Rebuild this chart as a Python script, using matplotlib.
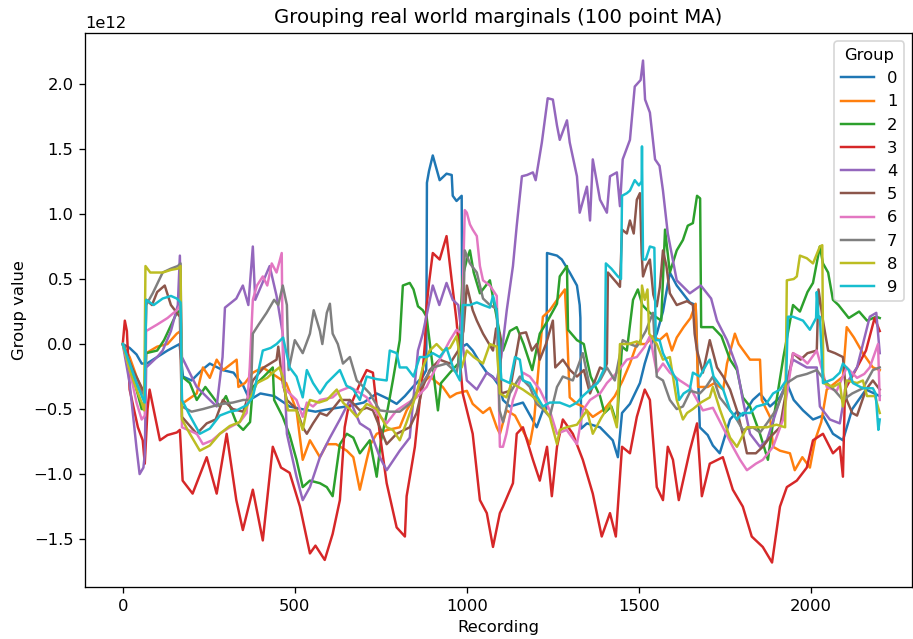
import matplotlib
matplotlib.use("Agg")
import matplotlib.pyplot as plt
import numpy as np

# Moving-average group values per recording, in units of 1e12 (recording, value)
g0 = [(0,0),(20,-0.03),(40,-0.08),(55,-0.15),(70,-0.15),(100,-0.1),(130,-0.05),(165,0.0),(175,-0.25),(200,-0.28),(230,-0.2),(253,-0.15),(290,-0.2),(322,-0.22),(350,-0.32),(369,-0.43),(400,-0.38),(440,-0.4),(485,-0.48),(520,-0.5),(560,-0.52),(600,-0.5),(650,-0.48),(700,-0.45),(738,-0.38),(770,-0.42),(796,-0.46),(820,-0.4),(843,-0.33),(872,-0.25),(882,-0.2),(884,1.24),(890,1.33),(901,1.45),(921,1.26),(941,1.31),(956,1.3),(959,1.14),(970,1.1),(985,1.14),(987,-0.02),(1000,0.0),(1017,-0.05),(1040,-0.15),(1058,-0.22),(1075,-0.25),(1096,-0.33),(1105,-0.43),(1125,-0.48),(1163,-0.45),(1203,-0.64),(1221,-0.51),(1231,-0.5),(1233,0.7),(1262,0.68),(1276,0.65),(1299,0.55),(1320,0.45),(1328,0.3),(1330,0.2),(1332,-0.65),(1349,-0.61),(1387,-0.64),(1424,-0.74),(1439,-0.87),(1451,-0.53),(1474,-0.46),(1503,-0.3),(1517,-0.15),(1532,-0.02),(1552,0.08),(1570,0.25),(1590,0.55),(1610,0.45),(1648,0.32),(1665,0.3),(1677,-0.64),(1700,-0.7),(1715,-0.78),(1735,-0.84),(1765,-0.58),(1785,-0.52),(1802,-0.55),(1831,-0.43),(1852,-0.38),(1881,-0.48),(1910,-0.41),(1930,-0.3),(1950,-0.43),(1977,-0.51),(2006,-0.58),(2035,-0.55),(2064,-0.69),(2093,-0.74),(2120,-0.5),(2160,-0.35),(2200,-0.4)]
g1 = [(0,0),(20,-0.1),(40,-0.25),(55,-0.35),(64,-0.38),(68,-0.07),(100,-0.02),(130,0.0),(157,0.08),(168,0.1),(172,-0.46),(215,-0.38),(233,-0.18),(253,-0.26),(273,-0.12),(292,-0.2),(331,-0.12),(336,-0.33),(355,-0.3),(378,-0.22),(407,-0.18),(447,-0.25),(475,-0.3),(505,-0.51),(523,-0.89),(544,-0.74),(573,-0.87),(593,-0.77),(620,-0.77),(651,-0.82),(670,-0.87),(689,-1.12),(709,-0.89),(720,-0.77),(738,-0.69),(770,-0.66),(805,-0.64),(825,-0.51),(843,-0.43),(872,-0.3),(892,-0.25),(930,-0.33),(951,-0.41),(970,-0.38),(1000,-0.36),(1017,-0.46),(1047,-0.53),(1067,-0.49),(1087,-0.64),(1096,-0.69),(1115,-0.51),(1140,-0.55),(1183,-0.77),(1195,-0.6),(1221,0.21),(1241,0.26),(1265,0.35),(1285,0.42),(1292,0.05),(1299,-0.41),(1320,-0.46),(1337,-0.48),(1366,-0.56),(1400,-0.5),(1430,-0.4),(1453,-0.28),(1474,-0.15),(1494,0.0),(1520,0.0),(1541,0.06),(1560,0.03),(1581,0.08),(1596,-0.05),(1610,0.05),(1630,0.13),(1650,0.2),(1665,0.31),(1672,-0.33),(1700,-0.33),(1720,-0.3),(1745,-0.35),(1756,-0.15),(1779,0.08),(1790,0.0),(1823,-0.12),(1852,-0.12),(1857,-0.43),(1881,-0.56),(1890,-0.79),(1910,-0.82),(1939,-0.84),(1953,-0.97),(1975,-0.87),(1997,-0.95),(2012,-0.74),(2030,-0.6),(2046,-0.35),(2070,-0.3),(2093,-0.25),(2104,0.13),(2125,0.05),(2151,-0.07),(2180,-0.18),(2200,-0.2)]
g2 = [(0,0),(20,-0.15),(40,-0.35),(55,-0.5),(64,-0.5),(68,-0.07),(100,-0.05),(120,0.03),(157,0.24),(168,0.26),(172,-0.25),(195,-0.3),(215,-0.43),(240,-0.33),(260,-0.4),(282,-0.48),(300,-0.4),(331,-0.61),(350,-0.66),(370,-0.6),(378,-0.33),(410,-0.25),(436,-0.18),(440,-0.43),(465,-0.56),(485,-0.7),(505,-0.89),(523,-1.1),(544,-1.05),(573,-1.07),(593,-1.1),(610,-1.17),(631,-0.77),(651,-0.69),(670,-0.72),(689,-0.84),(718,-0.74),(738,-1.02),(750,-0.75),(770,-0.5),(785,-0.28),(805,0.03),(814,0.45),(834,0.47),(845,0.42),(858,0.29),(872,0.26),(883,0.21),(901,-0.18),(916,-0.51),(925,-0.3),(951,-0.22),(975,-0.15),(988,0.52),(1000,0.65),(1009,0.72),(1020,0.55),(1038,0.39),(1067,0.49),(1080,0.3),(1105,-0.05),(1125,0.1),(1145,0.13),(1165,0.0),(1190,-0.2),(1212,0.08),(1235,0.18),(1262,0.31),(1270,0.52),(1291,0.6),(1294,0.11),(1320,0.03),(1340,0.0),(1349,-0.12),(1360,-0.25),(1387,-0.4),(1400,-0.53),(1420,-0.48),(1436,-0.61),(1451,-0.02),(1465,-0.05),(1483,0.34),(1497,0.42),(1510,0.3),(1532,0.24),(1565,0.18),(1576,0.88),(1590,0.55),(1610,0.72),(1628,0.8),(1642,0.91),(1657,0.93),(1669,1.14),(1678,1.12),(1681,0.13),(1715,0.13),(1740,0.06),(1765,-0.12),(1785,-0.2),(1802,-0.41),(1823,-0.48),(1852,-0.69),(1875,-0.89),(1890,-0.6),(1920,-0.1),(1948,0.3),(1968,0.25),(1990,0.4),(2006,0.47),(2026,0.75),(2035,0.62),(2050,0.55),(2064,0.34),(2080,0.3),(2110,0.2),(2140,0.25),(2163,0.18),(2190,0.21),(2200,0.2)]
g3 = [(0,0),(6,0.18),(12,0.1),(20,-0.35),(44,-0.64),(58,-0.74),(64,-0.92),(72,-0.5),(78,-0.35),(108,-0.74),(130,-0.7),(157,-0.68),(166,-0.66),(174,-1.05),(203,-1.15),(244,-0.87),(273,-1.15),(302,-0.69),(330,-1.2),(349,-1.43),(378,-1.12),(407,-1.51),(436,-0.79),(460,-0.95),(485,-0.99),(515,-1.25),(544,-1.61),(560,-1.55),(587,-1.66),(610,-1.46),(631,-1.2),(645,-0.64),(654,-0.51),(669,-0.43),(690,-0.3),(709,-0.2),(727,-0.22),(747,-0.69),(767,-1.07),(796,-1.41),(820,-1.48),(825,-1.17),(849,-0.79),(858,-0.56),(869,-0.3),(878,0.0),(883,0.29),(890,0.47),(901,0.7),(921,0.65),(941,0.83),(956,0.49),(970,0.18),(988,-0.38),(1017,-0.69),(1038,-1.2),(1058,-1.3),(1076,-1.56),(1096,-1.3),(1105,-1.25),(1134,-1.07),(1145,-0.69),(1163,-0.64),(1192,-0.89),(1212,-1.05),(1233,-0.79),(1247,-1.17),(1262,-0.79),(1279,-0.58),(1308,-0.69),(1337,-0.89),(1366,-1.15),(1392,-1.48),(1416,-1.3),(1433,-1.48),(1451,-0.79),(1474,-0.84),(1494,-0.56),(1517,-0.35),(1532,-0.43),(1552,-1.1),(1570,-1.2),(1584,-0.79),(1599,-0.89),(1616,-1.2),(1648,-0.82),(1669,-0.61),(1683,-1.17),(1706,-0.92),(1744,-0.87),(1773,-1.12),(1802,-1.25),(1828,-1.48),(1860,-1.56),(1887,-1.68),(1910,-1.25),(1930,-1.1),(1959,-1.05),(1988,-0.95),(2006,-0.74),(2035,-0.69),(2064,-0.84),(2084,-0.79),(2093,-1.02),(2099,-0.35),(2130,-0.2),(2160,-0.05),(2185,0.2),(2200,0.1)]
g4 = [(0,0),(20,-0.3),(40,-0.8),(49,-1.0),(60,-0.95),(64,-0.85),(68,-0.18),(100,-0.1),(116,-0.05),(140,0.1),(160,0.3),(166,0.68),(172,-0.1),(215,-0.33),(253,-0.43),(273,-0.48),(290,-0.1),(297,0.28),(330,0.35),(349,0.45),(365,0.3),(378,0.75),(385,0.34),(427,0.6),(447,0.37),(465,0.08),(477,-0.69),(505,-1.02),(523,-1.2),(544,-1.1),(573,-0.87),(602,-0.72),(631,-0.58),(660,-0.43),(689,-0.61),(718,-0.66),(747,-0.87),(767,-0.97),(805,-0.82),(834,-0.72),(858,-0.05),(872,0.08),(901,0.45),(920,0.3),(941,0.47),(959,0.34),(975,0.3),(1000,-0.28),(1029,-0.35),(1058,-0.22),(1087,-0.28),(1100,-0.1),(1116,0.26),(1134,0.6),(1145,0.91),(1160,1.29),(1175,1.3),(1192,1.32),(1200,1.26),(1218,1.55),(1235,1.89),(1250,1.88),(1262,1.68),(1270,1.57),(1291,1.72),(1299,1.55),(1320,1.29),(1328,1.01),(1349,1.21),(1358,0.95),(1366,1.42),(1387,1.11),(1407,1.01),(1416,1.29),(1436,1.32),(1445,1.06),(1453,1.42),(1474,1.57),(1488,1.98),(1505,2.03),(1512,2.18),(1518,1.88),(1532,1.78),(1547,1.42),(1560,1.37),(1570,1.18),(1584,0.85),(1610,0.49),(1648,0.39),(1680,0.45),(1710,0.35),(1727,0.18),(1756,0.03),(1785,-0.18),(1802,-0.43),(1823,-0.69),(1852,-0.79),(1872,-0.74),(1910,-0.43),(1930,-0.28),(1948,-0.12),(1988,-0.18),(2017,-0.18),(2026,-0.48),(2055,-0.58),(2084,-0.61),(2104,-0.3),(2134,-0.18),(2171,0.21),(2190,0.24),(2200,-0.07)]
g5 = [(0,0),(10,-0.07),(30,-0.2),(58,-0.35),(64,-0.43),(68,0.34),(85,0.3),(100,0.4),(122,0.45),(140,0.3),(166,0.21),(172,-0.56),(215,-0.69),(244,-0.61),(270,-0.58),(291,-0.43),(320,-0.5),(350,-0.52),(365,-0.4),(378,-0.28),(410,-0.18),(447,-0.12),(452,-0.02),(465,-0.3),(477,-0.43),(505,-0.5),(523,-0.64),(535,-0.69),(553,-0.61),(573,-0.53),(593,-0.55),(610,-0.5),(631,-0.43),(660,-0.43),(689,-0.51),(709,-0.49),(727,-0.51),(747,-0.64),(767,-0.77),(796,-0.69),(834,-0.64),(854,-0.53),(872,-0.33),(892,-0.2),(921,-0.12),(951,-0.15),(975,-0.05),(990,0.1),(1000,0.45),(1017,0.26),(1029,0.18),(1047,0.08),(1076,-0.05),(1085,0.12),(1096,0.08),(1100,-0.38),(1125,-0.36),(1154,0.08),(1172,0.09),(1189,-0.05),(1203,0.0),(1212,-0.12),(1230,0.0),(1250,0.18),(1257,-0.18),(1279,-0.12),(1300,-0.2),(1320,-0.25),(1340,-0.2),(1358,-0.38),(1387,-0.18),(1400,-0.2),(1407,-0.15),(1410,0.55),(1436,0.47),(1445,0.44),(1451,0.88),(1465,0.85),(1474,0.95),(1485,0.85),(1494,1.11),(1503,1.16),(1508,0.7),(1512,0.52),(1522,0.6),(1532,0.65),(1542,0.38),(1552,0.29),(1561,0.44),(1570,0.72),(1580,0.6),(1590,0.39),(1610,0.3),(1640,0.33),(1657,0.3),(1662,0.08),(1669,-0.05),(1686,-0.22),(1706,0.03),(1727,-0.18),(1745,-0.25),(1765,-0.35),(1785,-0.51),(1802,-0.69),(1814,-0.84),(1840,-0.84),(1860,-0.79),(1880,-0.72),(1910,-0.64),(1930,-0.33),(1948,-0.07),(1970,-0.12),(1990,-0.07),(2017,-0.05),(2022,0.42),(2035,0.18),(2050,-0.05),(2070,-0.07),(2093,-0.1),(2104,-0.43),(2120,-0.53),(2134,-0.55),(2160,-0.35),(2180,-0.28),(2200,-0.35)]
g6 = [(0,0),(20,-0.2),(40,-0.45),(55,-0.58),(64,-0.55),(68,0.1),(100,0.15),(130,0.2),(157,0.26),(168,0.3),(172,-0.64),(215,-0.69),(233,-0.77),(260,-0.74),(282,-0.69),(311,-0.64),(340,-0.6),(360,-0.53),(369,-0.18),(378,0.34),(390,0.45),(407,0.52),(420,0.45),(433,0.62),(447,0.55),(462,0.7),(466,-0.33),(485,-0.38),(505,-0.43),(523,-0.56),(535,-0.45),(553,-0.48),(573,-0.43),(610,-0.41),(631,-0.36),(660,-0.33),(680,-0.36),(709,-0.41),(738,-0.53),(767,-0.61),(796,-0.51),(825,-0.46),(854,-0.41),(883,-0.33),(921,-0.12),(951,0.03),(970,0.11),(985,0.08),(994,1.03),(1000,1.01),(1009,0.92),(1017,0.88),(1029,0.83),(1038,0.6),(1047,0.49),(1067,0.45),(1087,0.37),(1096,-0.79),(1105,-0.79),(1115,-0.69),(1134,-0.43),(1163,-0.22),(1183,-0.25),(1212,-0.35),(1241,-0.51),(1262,-0.69),(1290,-0.66),(1320,-0.77),(1337,-0.51),(1358,-0.43),(1387,-0.38),(1407,-0.3),(1436,-0.22),(1465,-0.12),(1494,-0.1),(1517,-0.02),(1532,0.06),(1552,-0.22),(1570,-0.15),(1590,-0.22),(1619,-0.28),(1648,-0.33),(1669,-0.43),(1686,-0.51),(1715,-0.49),(1744,-0.64),(1773,-0.79),(1794,-0.89),(1814,-0.97),(1840,-0.92),(1860,-0.89),(1890,-0.79),(1919,-0.58),(1948,-0.07),(1970,-0.1),(1990,-0.15),(2017,-0.05),(2046,-0.33),(2075,-0.36),(2104,-0.18),(2134,-0.26),(2155,-0.23),(2171,-0.18),(2195,0.0),(2200,-0.43)]
g7 = [(0,0),(20,-0.15),(40,-0.3),(55,-0.38),(64,-0.35),(68,0.3),(87,0.39),(116,0.55),(140,0.58),(160,0.6),(168,0.62),(172,-0.48),(200,-0.52),(233,-0.5),(260,-0.48),(290,-0.46),(320,-0.45),(350,-0.43),(372,-0.43),(378,0.08),(395,0.15),(418,0.24),(440,0.34),(452,0.3),(465,0.45),(477,0.3),(482,-0.2),(500,0.03),(523,-0.07),(544,0.08),(555,0.26),(573,0.1),(580,0.0),(593,0.24),(602,0.31),(610,0.08),(625,0.0),(640,-0.15),(660,-0.1),(680,-0.28),(700,-0.33),(718,-0.38),(747,-0.51),(776,-0.52),(805,-0.52),(834,-0.46),(863,-0.33),(901,-0.18),(941,-0.15),(970,-0.22),(988,0.03),(994,0.72),(1009,0.62),(1029,0.55),(1047,0.35),(1067,0.3),(1087,0.27),(1095,-0.51),(1105,-0.6),(1125,-0.38),(1154,-0.25),(1183,-0.33),(1203,-0.46),(1221,-0.5),(1241,-0.56),(1262,-0.33),(1279,-0.25),(1308,-0.28),(1337,-0.07),(1358,-0.34),(1387,-0.28),(1407,-0.18),(1430,-0.28),(1453,0.03),(1474,0.0),(1494,-0.02),(1520,0.1),(1541,0.24),(1552,-0.25),(1570,-0.28),(1590,-0.43),(1610,-0.5),(1628,-0.48),(1650,-0.36),(1677,-0.38),(1695,-0.33),(1715,-0.25),(1735,-0.41),(1756,-0.48),(1780,-0.56),(1802,-0.66),(1831,-0.64),(1852,-0.68),(1872,-0.61),(1900,-0.5),(1930,-0.3),(1959,-0.25),(1988,-0.23),(2017,-0.2),(2046,-0.3),(2070,-0.36),(2093,-0.43),(2120,-0.38),(2151,-0.34),(2180,-0.2),(2200,-0.18)]
g8 = [(0,0),(20,-0.2),(40,-0.35),(55,-0.45),(62,-0.51),(66,0.6),(80,0.55),(100,0.55),(116,0.55),(140,0.57),(160,0.58),(168,0.6),(172,-0.58),(195,-0.69),(224,-0.82),(253,-0.78),(282,-0.69),(311,-0.63),(340,-0.6),(369,-0.43),(390,-0.3),(420,-0.26),(436,-0.22),(455,-0.18),(465,-0.25),(480,-0.51),(505,-0.51),(523,-0.66),(535,-0.5),(544,-0.43),(570,-0.45),(593,-0.43),(622,-0.35),(640,-0.45),(660,-0.5),(680,-0.56),(709,-0.46),(738,-0.5),(767,-0.64),(785,-0.66),(805,-0.74),(825,-0.6),(854,-0.38),(872,-0.18),(892,-0.05),(912,0.0),(930,-0.05),(951,-0.03),(970,0.06),(985,-0.18),(1000,-0.05),(1020,-0.1),(1047,-0.15),(1067,0.0),(1087,-0.02),(1096,-0.38),(1115,-0.41),(1130,-0.3),(1163,-0.35),(1190,-0.4),(1221,-0.48),(1241,-0.56),(1262,-0.77),(1270,-0.66),(1290,-0.64),(1320,-0.62),(1349,-0.51),(1366,-0.69),(1390,-0.57),(1416,-0.46),(1436,-0.64),(1445,0.0),(1470,0.0),(1494,0.02),(1505,0.0),(1509,0.45),(1517,0.34),(1525,0.42),(1530,0.08),(1552,0.0),(1570,-0.12),(1590,-0.1),(1610,-0.43),(1628,-0.58),(1640,-0.53),(1657,-0.5),(1680,-0.45),(1706,-0.41),(1715,-0.33),(1735,-0.5),(1765,-0.72),(1785,-0.79),(1814,-0.64),(1843,-0.64),(1872,-0.64),(1900,-0.62),(1925,-0.64),(1930,0.49),(1950,0.5),(1959,0.52),(1968,0.68),(1988,0.66),(2006,0.62),(2026,0.75),(2033,0.76),(2036,-0.3),(2064,-0.33),(2084,-0.3),(2093,-0.48),(2104,-0.28),(2134,-0.3),(2151,-0.28),(2163,-0.4),(2186,-0.4),(2200,-0.53)]
g9 = [(0,0),(20,-0.15),(40,-0.3),(60,-0.43),(64,-0.45),(68,0.34),(90,0.3),(116,0.35),(140,0.37),(157,0.35),(168,0.32),(172,-0.43),(195,-0.55),(224,-0.69),(253,-0.65),(282,-0.55),(311,-0.52),(331,-0.51),(360,-0.47),(378,-0.41),(407,-0.05),(430,-0.03),(447,0.0),(466,0.05),(485,-0.18),(505,-0.25),(523,-0.41),(535,-0.2),(553,-0.3),(573,-0.38),(593,-0.3),(612,-0.25),(631,-0.2),(650,-0.32),(670,-0.35),(689,-0.43),(709,-0.25),(738,-0.27),(767,-0.28),(776,-0.05),(796,-0.07),(805,-0.18),(825,-0.18),(845,-0.25),(863,-0.1),(883,-0.1),(901,-0.07),(921,-0.1),(941,-0.03),(960,-0.18),(980,-0.28),(988,0.3),(1009,0.3),(1029,0.32),(1047,0.3),(1067,0.28),(1076,0.37),(1087,0.25),(1095,-0.05),(1100,-0.27),(1125,-0.3),(1140,-0.1),(1154,-0.12),(1163,-0.28),(1183,-0.3),(1203,-0.4),(1221,-0.48),(1241,-0.45),(1270,-0.45),(1299,-0.48),(1320,-0.45),(1337,-0.4),(1358,-0.35),(1380,-0.3),(1401,-0.18),(1404,0.62),(1420,0.58),(1439,0.52),(1448,0.5),(1451,1.14),(1465,1.16),(1474,1.18),(1488,1.26),(1500,1.22),(1508,1.25),(1509,1.52),(1512,0.65),(1520,0.65),(1532,0.75),(1545,0.74),(1549,0.03),(1560,0.03),(1570,-0.07),(1590,-0.18),(1610,-0.28),(1617,-0.43),(1630,-0.38),(1648,-0.35),(1657,-0.22),(1677,-0.25),(1698,-0.15),(1706,-0.12),(1717,-0.25),(1745,-0.35),(1765,-0.51),(1785,-0.58),(1802,-0.53),(1823,-0.53),(1842,-0.48),(1870,-0.46),(1890,-0.38),(1910,-0.35),(1928,-0.28),(1933,0.21),(1948,0.21),(1977,0.18),(1997,0.11),(2015,0.2),(2017,0.4),(2022,0.2),(2026,0.21),(2035,-0.3),(2064,-0.27),(2084,-0.22),(2093,-0.15),(2110,-0.2),(2122,-0.3),(2151,-0.34),(2180,-0.34),(2188,-0.38),(2196,-0.66),(2200,-0.58)]

groups = [g0, g1, g2, g3, g4, g5, g6, g7, g8, g9]
group_labels = [str(i) for i in range(10)]
SCALE = 1e12

DPI = 118
fig = plt.figure(figsize=(913 / DPI, 639 / DPI), dpi=DPI)
ax = fig.add_subplot(111)
fig.subplots_adjust(left=0.093, right=0.999, top=0.948, bottom=0.081)

for pts, label in zip(groups, group_labels):
    arr = np.array(pts, dtype=float)
    ax.plot(arr[:, 0], arr[:, 1] * SCALE, label=label, linewidth=1.5)

ax.set_xlim(-110, 2294)
ax.set_ylim(-1.87 * SCALE, 2.39 * SCALE)
ax.set_title("Grouping real world marginals (100 point MA)")
ax.set_xlabel("Recording")
ax.set_ylabel("Group value")
ax.legend(title="Group", loc="upper right")

fig.savefig("out.png", dpi=DPI)
